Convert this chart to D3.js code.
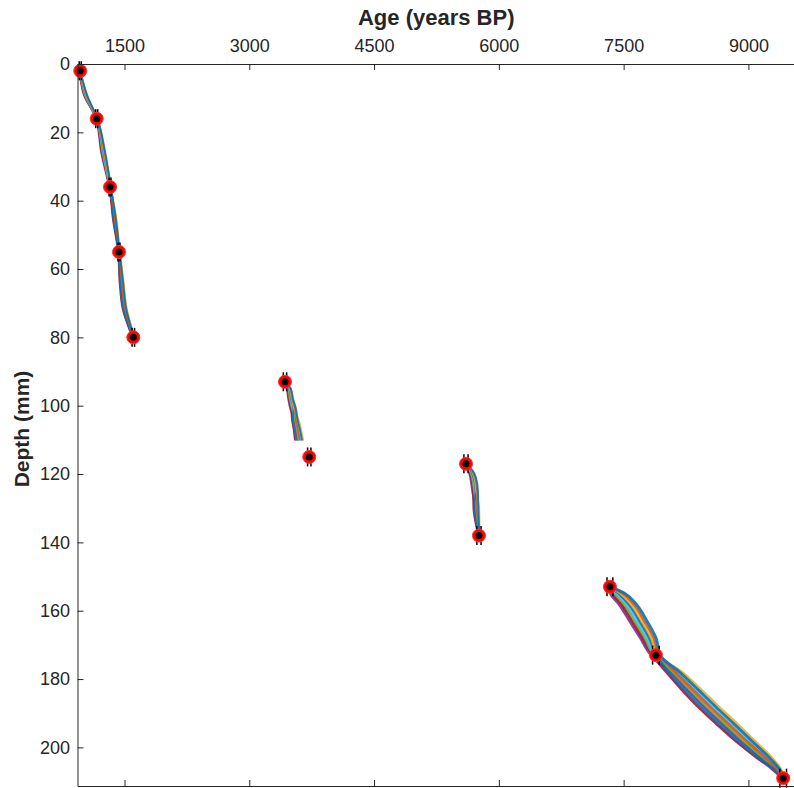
<!DOCTYPE html>
<html>
<head>
<meta charset="utf-8">
<script src="https://cdn.jsdelivr.net/npm/d3@7/dist/d3.min.js"></script>
<style>
  html, body { margin: 0; padding: 0; background: #ffffff; }
  svg { display: block; }
</style>
</head>
<body>
<div id="chart"></div>
<script>
// ---------------- DATA ----------------
const ageLim = [935, 9560];
const depthLim = [0, 211.3];
const ageTicks = [1500, 3000, 4500, 6000, 7500, 9000];
const depthTicks = [0, 20, 40, 60, 80, 100, 120, 140, 160, 180, 200];

// dated points (age in years BP, depth in mm, age uncertainty)
const pointAge   = [968, 1166, 1326, 1434, 1606, 3429, 3721, 5605, 5761, 7335, 7888, 9418];
const pointDepth = [2, 16, 36, 55, 80, 93, 115, 117, 138, 153, 173, 209];
const pointErr   = [12, 12, 12, 12, 15, 20, 20, 25, 25, 35, 40, 40];

// ensemble age-depth realisations, segment A (depth 2-80)
const segADepth = [2, 9, 16, 26, 36, 45, 55, 64, 72, 77, 80];
const segAAges = [
  [960, 1010, 1156, 1220, 1314, 1371, 1429, 1456, 1496, 1559, 1603],
  [962, 1016, 1159, 1228, 1318, 1358, 1422, 1441, 1481, 1548, 1598],
  [963, 1022, 1162, 1235, 1321, 1377, 1432, 1462, 1502, 1563, 1605],
  [964, 1027, 1164, 1241, 1324, 1389, 1439, 1476, 1516, 1573, 1609],
  [966, 1033, 1168, 1249, 1328, 1365, 1426, 1448, 1488, 1553, 1600],
  [967, 1038, 1170, 1255, 1331, 1402, 1446, 1491, 1531, 1584, 1614],
  [968, 1044, 1173, 1262, 1334, 1383, 1436, 1470, 1510, 1569, 1607],
  [970, 1050, 1176, 1270, 1338, 1395, 1442, 1484, 1524, 1579, 1612]
];

// segment B (depth 93-110)
const segBDepth = [93, 95, 98, 101, 104, 107, 110];
const segBAges = [
  [3424, 3450, 3467, 3493, 3536, 3560, 3578],
  [3426, 3458, 3476, 3504, 3512, 3533, 3548],
  [3427, 3465, 3485, 3514, 3546, 3571, 3590],
  [3428, 3471, 3493, 3523, 3568, 3596, 3618],
  [3430, 3479, 3502, 3533, 3524, 3546, 3563],
  [3431, 3485, 3509, 3542, 3592, 3623, 3648],
  [3433, 3493, 3518, 3552, 3558, 3585, 3606],
  [3434, 3500, 3527, 3563, 3580, 3610, 3633]
];

// segment C (depth 117-138)
const segCDepth = [117, 119, 121, 125, 130, 134, 138];
const segCAges = [
  [5600, 5635, 5655, 5679, 5715, 5732, 5758],
  [5602, 5642, 5666, 5690, 5694, 5717, 5753],
  [5603, 5650, 5676, 5700, 5724, 5738, 5760],
  [5604, 5656, 5685, 5709, 5743, 5752, 5764],
  [5606, 5664, 5695, 5719, 5705, 5724, 5755],
  [5607, 5670, 5704, 5728, 5764, 5767, 5769],
  [5609, 5678, 5715, 5739, 5734, 5746, 5762],
  [5610, 5685, 5725, 5749, 5754, 5760, 5767]
];

// segment D (depth 153-209)
const segDDepth = [153, 155, 158, 163, 168, 173, 178, 183, 188, 193, 198, 203, 206, 209];
const segDAges = [
  [7325, 7340, 7440, 7571, 7701, 7830, 8072, 8264, 8465, 8685, 8909, 9154, 9303, 9414],
  [7328, 7367, 7471, 7602, 7729, 7846, 8015, 8195, 8390, 8610, 8840, 9100, 9270, 9405],
  [7331, 7394, 7503, 7634, 7758, 7863, 8096, 8293, 8496, 8716, 8938, 9176, 9317, 9418],
  [7333, 7416, 7529, 7660, 7782, 7877, 8148, 8356, 8565, 8785, 9001, 9226, 9347, 9426],
  [7337, 7444, 7561, 7692, 7810, 7893, 8043, 8229, 8427, 8647, 8874, 9127, 9286, 9409],
  [7339, 7466, 7587, 7718, 7834, 7907, 8205, 8425, 8640, 8860, 9070, 9280, 9380, 9435],
  [7342, 7493, 7619, 7750, 7863, 7924, 8124, 8327, 8534, 8754, 8972, 9204, 9333, 9422],
  [7345, 7520, 7650, 7781, 7891, 7940, 8177, 8391, 8603, 8823, 9036, 9253, 9364, 9431]
];

const xLabel = "Age (years BP)";
const yLabel = "Depth (mm)";

// ---------------- STYLE ----------------
const memberColors = ["#7E2F8E", "#A2142F", "#77AC30", "#4DBEEE", "#0072BD", "#EDB120", "#D95319", "#0072BD"];
const axisColor = "#262626";
const fontFamily = "'Liberation Sans', Arial, Helvetica, sans-serif";

const W = 794, H = 788;
const plot = { left: 77.5, top: 64, right: 795, bottom: 786 };

const svg = d3.select("#chart").append("svg")
  .attr("width", W).attr("height", H)
  .style("background", "#ffffff");

svg.append("rect").attr("width", W).attr("height", H).attr("fill", "#ffffff");

const x = d3.scaleLinear().domain(ageLim).range([plot.left, plot.right]);
const y = d3.scaleLinear().domain(depthLim).range([plot.top, plot.bottom]);

// ---------------- ENSEMBLE LINES ----------------
const line = d3.line()
  .x(d => x(d[0]))
  .y(d => y(d[1]))
  .curve(d3.curveMonotoneY);

const segments = [
  { depth: segADepth, ages: segAAges, w: 1.8 },
  { depth: segBDepth, ages: segBAges, w: 1.8 },
  { depth: segCDepth, ages: segCAges, w: 1.8 },
  { depth: segDDepth, ages: segDAges, w: 2.7 }
];

const gLines = svg.append("g");
segments.forEach(seg => {
  seg.ages.forEach((member, i) => {
    const pts = member.map((a, j) => [a, seg.depth[j]]);
    gLines.append("path")
      .attr("d", line(pts))
      .attr("fill", "none")
      .attr("stroke", memberColors[i % memberColors.length])
      .attr("stroke-width", seg.w)
      .attr("stroke-opacity", 0.9)
      .attr("stroke-linecap", "round");
  });
});

// ---------------- ERROR BARS & POINTS ----------------
const pts = pointAge.map((a, i) => ({ age: a, depth: pointDepth[i], err: pointErr[i] }));
const capHalf = 9.5;
const gErr = svg.append("g").attr("stroke", "#000").attr("stroke-width", 1.5);
pts.forEach(p => {
  const x0 = x(p.age - p.err), x1 = x(p.age + p.err), yy = y(p.depth);
  gErr.append("line").attr("x1", x0).attr("x2", x1).attr("y1", yy).attr("y2", yy);
  gErr.append("line").attr("x1", x0).attr("x2", x0).attr("y1", yy - capHalf).attr("y2", yy + capHalf);
  gErr.append("line").attr("x1", x1).attr("x2", x1).attr("y1", yy - capHalf).attr("y2", yy + capHalf);
});

const gPts = svg.append("g");
gPts.selectAll("circle.red").data(pts).join("circle")
  .attr("class", "red")
  .attr("cx", d => x(d.age)).attr("cy", d => y(d.depth))
  .attr("r", 6.5).attr("fill", "#ff0000").attr("stroke", "#ff3030").attr("stroke-width", 1);
gPts.selectAll("circle.blk").data(pts).join("circle")
  .attr("class", "blk")
  .attr("cx", d => x(d.age)).attr("cy", d => y(d.depth))
  .attr("r", 3.5).attr("fill", "#000000");

// ---------------- AXES ----------------
function styleAxis(g) {
  g.select(".domain").attr("stroke", axisColor).attr("stroke-width", 1);
  g.selectAll(".tick line").attr("stroke", axisColor).attr("stroke-width", 1);
  g.selectAll(".tick text").attr("fill", axisColor)
    .style("font-family", fontFamily).style("font-size", "18px");
}

const topAxis = svg.append("g")
  .attr("transform", `translate(0,${plot.top})`)
  .call(d3.axisTop(x).tickValues(ageTicks).tickFormat(d3.format("d"))
    .tickSizeInner(-6).tickSizeOuter(0).tickPadding(12.5));
styleAxis(topAxis);

const bottomAxis = svg.append("g")
  .attr("transform", `translate(0,${plot.bottom})`)
  .call(d3.axisBottom(x).tickValues(ageTicks).tickFormat("")
    .tickSizeInner(-6).tickSizeOuter(0));
styleAxis(bottomAxis);

const leftAxis = svg.append("g")
  .attr("transform", `translate(${plot.left},0)`)
  .call(d3.axisLeft(y).tickValues(depthTicks).tickFormat(d3.format("d"))
    .tickSizeInner(-6).tickSizeOuter(0).tickPadding(7.5));
styleAxis(leftAxis);

// ---------------- LABELS ----------------
svg.append("text")
  .attr("x", (plot.left + plot.right) / 2).attr("y", 25)
  .attr("text-anchor", "middle")
  .attr("fill", axisColor)
  .style("font-family", fontFamily).style("font-size", "22px").style("font-weight", "bold")
  .text(xLabel);

svg.append("text")
  .attr("transform", `translate(29,${(plot.top + plot.bottom) / 2 + 4}) rotate(-90)`)
  .attr("text-anchor", "middle")
  .attr("fill", axisColor)
  .style("font-family", fontFamily).style("font-size", "21px").style("font-weight", "bold")
  .text(yLabel);
</script>
</body>
</html>
